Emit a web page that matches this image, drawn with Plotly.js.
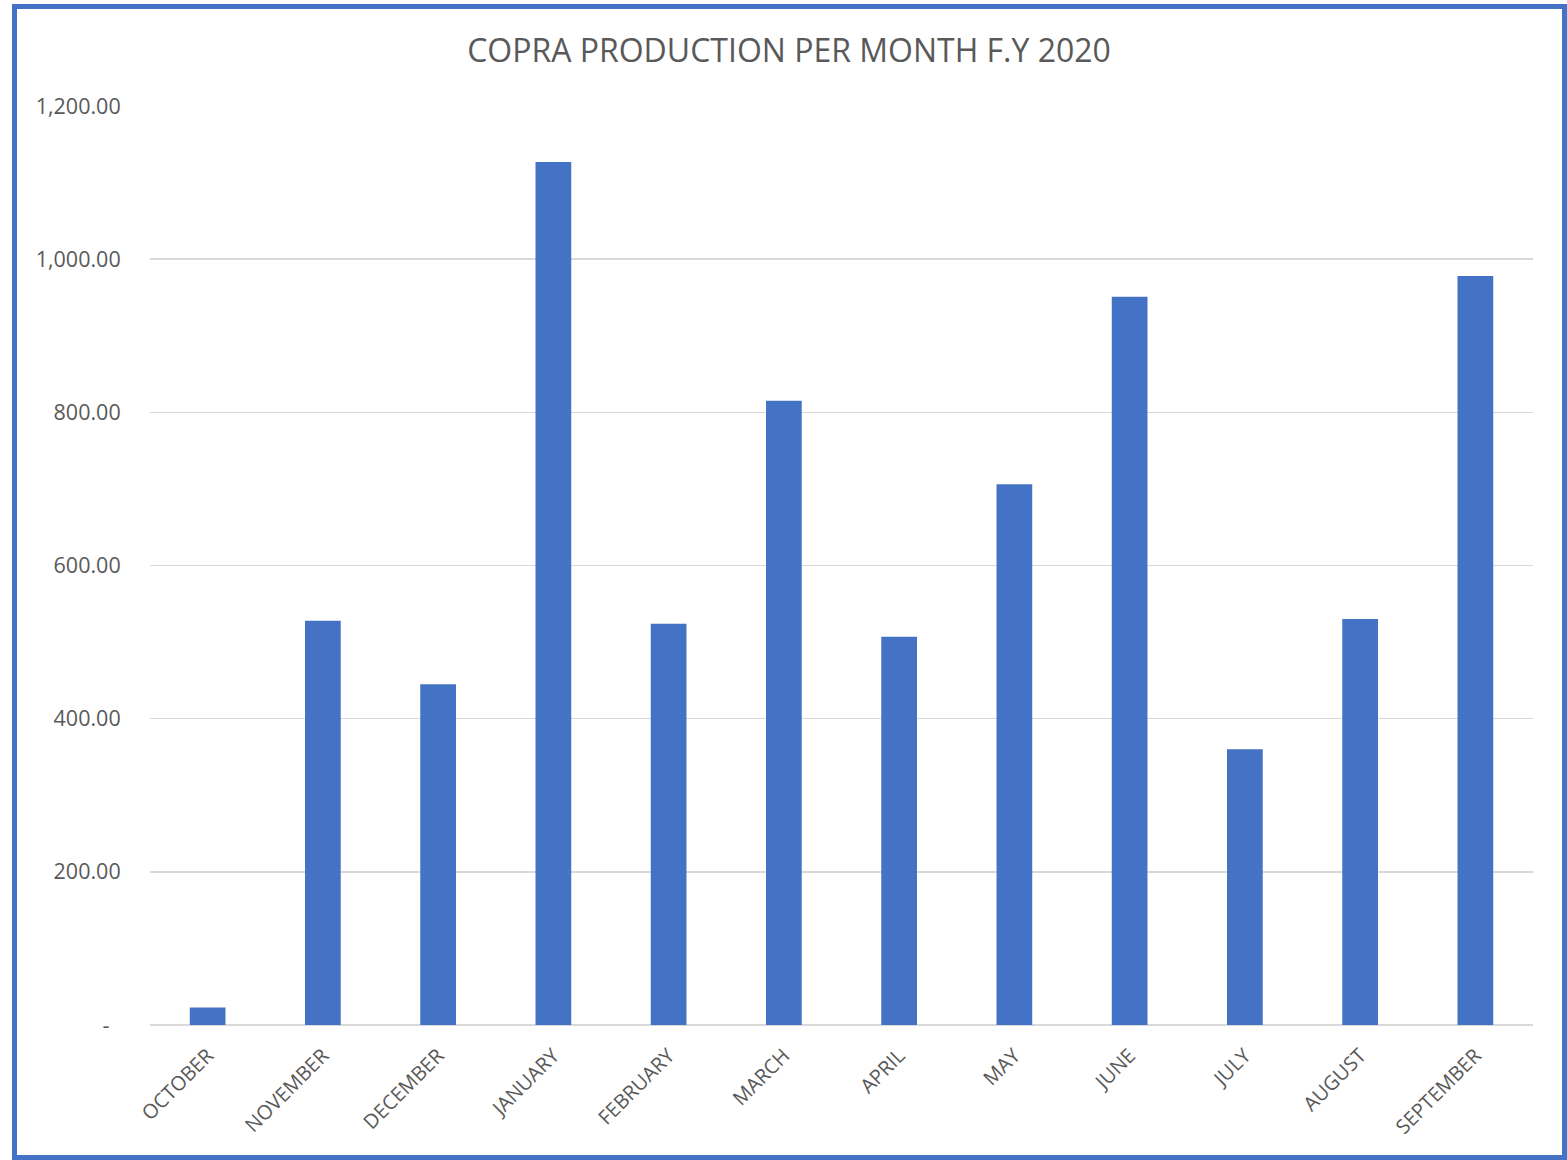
<!DOCTYPE html>
<html>
<head>
<meta charset="utf-8">
<script src="https://cdn.plot.ly/plotly-3.0.1.min.js"></script>
<style>
  html, body { margin: 0; padding: 0; background: #fff; }
  #wrap { position: relative; width: 1567px; height: 1160px; }
  #chart { position: absolute; left: 0; top: 0; width: 1567px; height: 1160px; }
  #frame { position: absolute; left: 12px; top: 4px; width: 1545px; height: 1146px;
           border: 5px solid #4472C4; pointer-events: none; }
</style>
</head>
<body>
<div id="wrap">
  <div id="chart"></div>
  <div id="frame"></div>
</div>
<script>
const months = ["OCTOBER", "NOVEMBER", "DECEMBER", "JANUARY", "FEBRUARY", "MARCH",
                "APRIL", "MAY", "JUNE", "JULY", "AUGUST", "SEPTEMBER"];
const production = [23, 528, 445, 1127, 524, 815, 507, 706, 951, 360, 530, 978];
const yTickVals = [0, 200, 400, 600, 800, 1000, 1200];
const yTickText = ["-\u00A0\u00A0", "200.00", "400.00", "600.00", "800.00", "1,000.00", "1,200.00"];

const trace = {
  type: "bar",
  x: months,
  y: production,
  marker: { color: "#4472C4" },
  hoverinfo: "x+y"
};

const fam = "'Open Sans', Lato, sans-serif";

const layout = {
  width: 1567,
  height: 1160,
  margin: { l: 150, r: 34, t: 106, b: 135 },
  paper_bgcolor: "#ffffff",
  plot_bgcolor: "#ffffff",
  bargap: 0.69,
  showlegend: false,
  font: { family: fam, color: "#595959" },
  title: {
    text: "COPRA PRODUCTION PER MONTH F.Y 2020",
    font: { size: 32, color: "#595959", family: fam },
    x: 789 / 1567, xref: "container", xanchor: "center",
    y: 1 - 51 / 1160, yref: "container", yanchor: "middle"
  },
  xaxis: {
    type: "category",
    tickangle: -45,
    tickfont: { size: 20, color: "#595959", family: fam },
    showgrid: false,
    showline: false,
    zeroline: false,
    ticks: "outside",
    ticklen: 10,
    tickcolor: "rgba(0,0,0,0)"
  },
  yaxis: {
    range: [0, 1200],
    tickvals: yTickVals,
    ticktext: yTickText,
    tickfont: { size: 21.5, color: "#595959", family: fam },
    showgrid: true,
    gridcolor: "#D9D9D9",
    gridwidth: 1.5,
    zeroline: true,
    zerolinecolor: "#D9D9D9",
    zerolinewidth: 2,
    showline: false,
    ticks: "outside",
    ticklen: 24,
    tickcolor: "rgba(0,0,0,0)"
  }
};

Plotly.newPlot("chart", [trace], layout, { displayModeBar: false, staticPlot: true });
</script>
</body>
</html>
